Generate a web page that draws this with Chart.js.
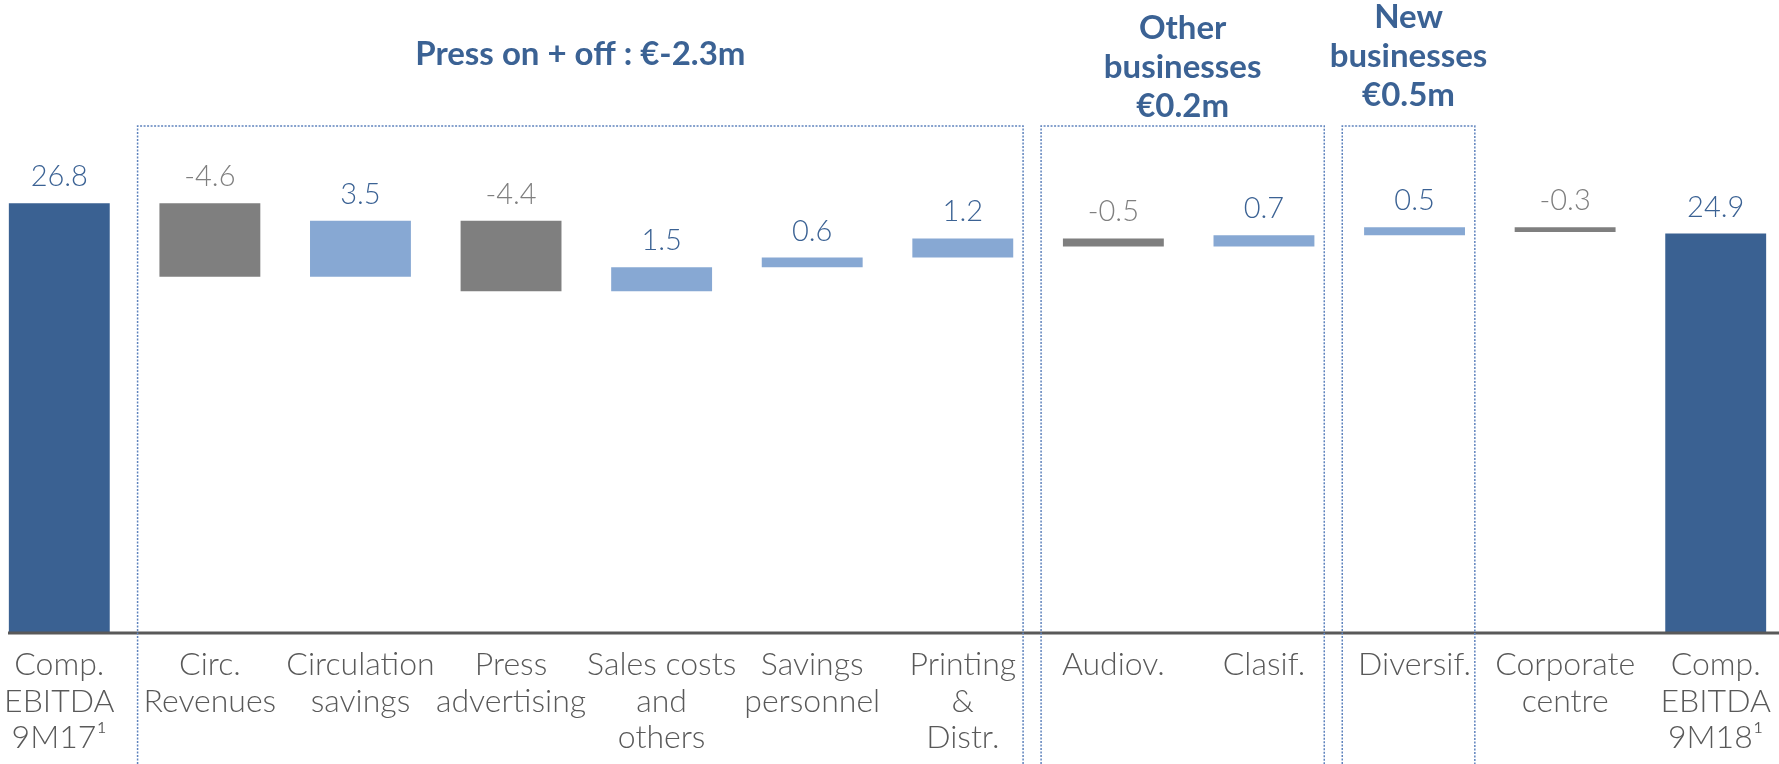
<!DOCTYPE html>
<html>
<head>
<meta charset="utf-8">
<script src="https://cdn.jsdelivr.net/npm/chart.js@4.4.1/dist/chart.umd.min.js"></script>
<style>
    html, body { margin: 0; padding: 0; background: #fff; overflow: hidden; }
    #wrap { position: absolute; left: -16px; top: 0; width: 1807px; height: 764px; }
</style>
</head>
<body>
<div id="wrap"><canvas id="GraficoEbitda" width="1807" height="764"></canvas></div>
<script>
// categorias do eixo x
var categorias = [
    ["Comp.", "EBITDA", "9M17\u00b9"],
    ["Circ.", "Revenues"],
    ["Circulation", "savings"],
    ["Press", "advertising"],
    ["Sales costs", "and", "others"],
    ["Savings", "personnel"],
    ["Printing", "&", "Distr."],
    ["Audiov."],
    ["Clasif."],
    ["Diversif."],
    ["Corporate", "centre"],
    ["Comp.", "EBITDA", "9M18\u00b9"]
];

// variações (€m); primeira e última são totais
var valores = [26.8, -4.6, 3.5, -4.4, 1.5, 0.6, 1.2, -0.5, 0.7, 0.5, -0.3, 24.9];
var totais = [true, false, false, false, false, false, false, false, false, false, false, true];

// grupos com caixa tracejada: primeira e última categoria, título
var gruposInicio = [1, 7, 9];
var gruposFim = [6, 8, 9];
var gruposTitulo = [
    ["Press on + off : \u20ac-2.3m"],
    ["Other", "businesses", "\u20ac0.2m"],
    ["New", "businesses", "\u20ac0.5m"]
];

var corTotal = "#3a6192";
var corPositivo = "#87a8d3";
var corNegativo = "#7f7f7f";
var corTextoAzul = "#3b6294";
var corTextoCinza = "#7f7f7f";
var centroTitulos = [54, 67, 56];

// barras flutuantes da cascata
var barras = [];
var cores = [];
var acumulado = 0;
for (var i = 0; i < valores.length; i++) {
    if (totais[i]) {
        barras.push([0, valores[i]]);
        acumulado = valores[i];
        cores.push(corTotal);
    } else {
        barras.push([acumulado, acumulado + valores[i]]);
        acumulado = acumulado + valores[i];
        cores.push(valores[i] < 0 ? corNegativo : corPositivo);
    }
}

var extras = {
    id: "extras",
    afterDatasetsDraw: function (chart) {
        var ctx = chart.ctx;
        var meta = chart.getDatasetMeta(0);
        ctx.save();
        ctx.font = "300 29px Lato";
        ctx.textAlign = "center";
        ctx.textBaseline = "alphabetic";
        meta.data.forEach(function (bar, i) {
            var topo = Math.min(bar.y, bar.base);
            ctx.fillStyle = (valores[i] < 0) ? corTextoCinza : corTextoAzul;
            ctx.fillText(valores[i].toFixed(1), bar.x, topo - 17);
        });
        ctx.restore();
    },
    afterDraw: function (chart) {
        var ctx = chart.ctx;
        var area = chart.chartArea;
        var x = chart.scales.x;
        var y = chart.scales.y;
        var meio = function (a, b) {
            return (x.getPixelForValue(a) + x.getPixelForValue(b)) / 2;
        };

        // linha de base
        ctx.save();
        ctx.strokeStyle = "#595959";
        ctx.lineWidth = 3;
        ctx.beginPath();
        ctx.moveTo(24, y.getPixelForValue(0) + 1);
        ctx.lineTo(chart.width, y.getPixelForValue(0) + 1);
        ctx.stroke();
        ctx.restore();

        // caixas e títulos dos grupos
        for (var g = 0; g < gruposInicio.length; g++) {
            var esq = meio(gruposInicio[g] - 1, gruposInicio[g]) + 3;
            var dir = meio(gruposFim[g], gruposFim[g] + 1) - 15;
            var topo = area.top + 6;

            ctx.save();
            ctx.strokeStyle = "#5f83bd";
            ctx.lineWidth = 1.5;
            ctx.setLineDash([2, 1.5]);
            ctx.beginPath();
            ctx.moveTo(esq, chart.height);
            ctx.lineTo(esq, topo);
            ctx.lineTo(dir, topo);
            ctx.lineTo(dir, chart.height);
            ctx.stroke();
            ctx.restore();

            var linhas = gruposTitulo[g];
            var alturaLinha = 39;
            var y0 = centroTitulos[g] - (linhas.length - 1) * alturaLinha / 2;
            ctx.save();
            ctx.fillStyle = corTextoAzul;
            ctx.font = "bold 33px Lato";
            ctx.textAlign = "center";
            ctx.textBaseline = "middle";
            linhas.forEach(function (t, k) {
                ctx.fillText(t, (esq + dir) / 2, y0 + k * alturaLinha);
            });
            ctx.restore();
        }
    }
};

var ctx = document.getElementById("GraficoEbitda").getContext("2d");
var grafico = new Chart(ctx, {
    type: 'bar',
    data: {
        labels: categorias,
        datasets: [
            {
                label: "EBITDA",
                data: barras,
                backgroundColor: cores,
                borderWidth: 0,
                categoryPercentage: 1,
                barPercentage: 0.67
            }
        ]
    },
    options: {
        responsive: false,
        animation: false,
        devicePixelRatio: 1,
        layout: { padding: { top: 120, left: 0, right: 0, bottom: 0 } },
        plugins: {
            legend: { display: false },
            tooltip: { enabled: false }
        },
        scales: {
            x: {
                grid: { display: false, drawTicks: false },
                border: { display: false },
                afterFit: function (axis) { axis.height = 132; },
                ticks: {
                    autoSkip: false,
                    maxRotation: 0,
                    padding: 15,
                    color: "#595959",
                    font: { family: "Lato", size: 32, weight: "300", lineHeight: 1.13 }
                }
            },
            y: {
                display: false,
                min: 0,
                max: 32
            }
        }
    },
    plugins: [extras]
});
</script>
</body>
</html>
